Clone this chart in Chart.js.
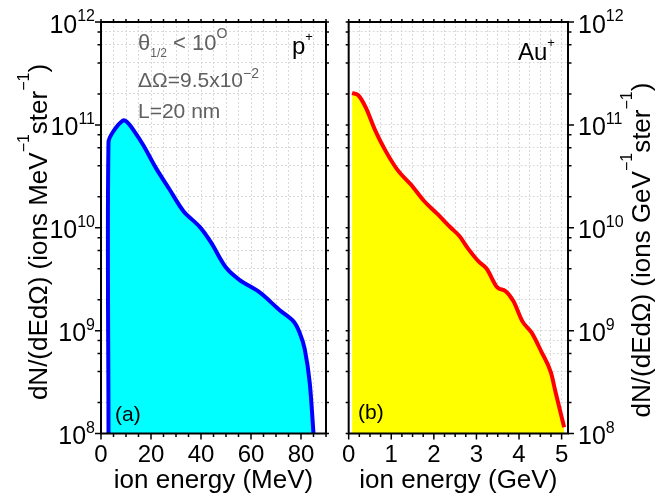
<!DOCTYPE html>
<html>
<head>
<meta charset="utf-8">
<script src="https://cdn.jsdelivr.net/npm/chart.js@4.4.1/dist/chart.umd.min.js"></script>
<style>
  html, body { margin: 0; padding: 0; background: #fff; }
  #wrap { position: relative; width: 669px; height: 496px; overflow: hidden; }
  #wrap canvas { position: absolute; top: 0; }
</style>
</head>
<body>
<div id="wrap">
  <canvas id="chartA" width="335" height="496" style="left:0"></canvas>
  <canvas id="chartB" width="334" height="496" style="left:335px"></canvas>
</div>
<script>
// ---- datos ----
// (a) protones, energia en MeV
const protonEnergy = [3, 3, 5, 8.7, 10.3, 13, 17, 22, 27.5, 33, 39.5, 44, 50, 55.5, 63.5, 71.5, 77, 79.5, 81.5, 83.5, 85];
const protonYield = [1e8, 6.8e10, 8.7e10, 1.1e11, 1.07e11, 8.9e10, 6.3e10, 3.8e10, 2.34e10, 1.45e10, 1.02e10,
  7.2e9, 4.1e9, 3.1e9, 2.35e9, 1.58e9, 1.23e9, 9.5e8, 6.6e8, 3.1e8, 1e8];

// (b) Au, energia en GeV
const goldEnergy = [0.08, 0.22, 0.4, 0.62, 0.85, 1.15, 1.46, 1.77, 2.07, 2.4, 2.6, 2.8, 3.05, 3.24, 3.49, 3.68,
  3.87, 4.08, 4.3, 4.52, 4.75, 4.86, 5.06];
const goldYield = [2.04e11, 1.95e11, 1.48e11, 8.9e10, 5.75e10, 3.63e10, 2.63e10, 1.82e10, 1.38e10, 1.0e10, 8.3e9,
  6.3e9, 4.7e9, 4.0e9, 2.63e9, 2.43e9, 1.93e9, 1.23e9, 9.5e8, 6.3e8, 3.9e8, 2.5e8, 1.15e8];

// ticks
const protonXMajor = [0, 20, 40, 60, 80];
const goldXMajor = [0, 1, 2, 3, 4, 5];
const yDecades = [8, 9, 10, 11, 12];
const yMinorMantissa = [2, 4, 6, 8];

const FONT = '"Liberation Sans", Arial, Helvetica, sans-serif';
Chart.defaults.font.family = FONT;

function font(size) { return size + 'px ' + FONT; }

// texto con sub/superindices: segs = [{t, size, dy}]
function drawRich(ctx, segs, x, y, align) {
  let w = 0;
  segs.forEach(s => { ctx.font = font(s.size); w += ctx.measureText(s.t).width; });
  let cx = align === 'center' ? x - w / 2 : align === 'right' ? x - w : x;
  ctx.textAlign = 'left';
  ctx.textBaseline = 'alphabetic';
  segs.forEach(s => {
    ctx.font = font(s.size);
    ctx.fillText(s.t, cx, y + (s.dy || 0));
    cx += ctx.measureText(s.t).width;
  });
}

function isDecade(v) {
  const l = Math.log10(v);
  return Math.abs(l - Math.round(l)) < 1e-9;
}

// marco, marcas de ticks, etiquetas del eje y y anotaciones
const panelDecor = {
  id: 'panelDecor',
  afterDraw(chart, args, o) {
    const ctx = chart.ctx, a = chart.chartArea;
    const xs = chart.scales.x, ys = chart.scales.y;
    ctx.save();
    ctx.strokeStyle = '#000';
    ctx.lineWidth = 1.5;
    ctx.beginPath();
    xs.ticks.forEach(t => {
      const px = xs.getPixelForValue(t.value);
      const major = o.xMajor.includes(t.value);
      ctx.moveTo(px, a.bottom); ctx.lineTo(px, a.bottom + (major ? 6 : 3.5));
      ctx.moveTo(px, a.top); ctx.lineTo(px, a.top - 3);
    });
    const sgn = o.side === 'left' ? -1 : 1;
    const mainX = o.side === 'left' ? a.left : a.right;
    const mirX = o.side === 'left' ? a.right : a.left;
    ys.ticks.forEach(t => {
      const py = ys.getPixelForValue(t.value);
      const major = isDecade(t.value);
      ctx.moveTo(mainX, py); ctx.lineTo(mainX + sgn * (major ? 6 : 3.5), py);
      ctx.moveTo(mirX, py); ctx.lineTo(mirX - sgn * 3, py);
    });
    ctx.stroke();

    ctx.lineWidth = 2;
    ctx.strokeRect(a.left, a.top, a.right - a.left, a.bottom - a.top);

    // etiquetas 10^n
    ctx.fillStyle = '#000';
    yDecades.forEach(n => {
      const py = ys.getPixelForValue(Math.pow(10, n));
      const segs = [{ t: '10', size: 25 }, { t: String(n), size: 16, dy: -11.5 }];
      if (o.side === 'left') drawRich(ctx, segs, a.left - 6, py + 10.5, 'right');
      else drawRich(ctx, segs, a.right + 10, py + 10.5, 'left');
    });

    // titulo del eje y
    ctx.save();
    ctx.translate(o.yTitleX, o.yTitleY);
    ctx.rotate(-Math.PI / 2);
    drawRich(ctx, [
      { t: 'dN/(dEd\u03A9) (ions ' + o.unit, size: 26 },
      { t: '\u22121', size: 16, dy: -18 },
      { t: 'ster', size: 26 },
      { t: '\u22121', size: 16, dy: -18 },
      { t: ')', size: 26 }
    ], 0, 0, 'center');
    ctx.restore();

    // anotaciones
    o.notes.forEach(nt => {
      ctx.fillStyle = nt.color;
      drawRich(ctx, nt.segs, nt.x, nt.y, 'left');
    });
    ctx.restore();
  }
};

function makePanel(canvasId, cfg) {
  const xTicks = [];
  for (let v = 0; v <= cfg.xMax + 1e-9; v += cfg.xStep) xTicks.push(Math.round(v * 100) / 100);
  const yTicks = [];
  yDecades.forEach(n => {
    yTicks.push(Math.pow(10, n));
    if (n < 12) yMinorMantissa.forEach(m => yTicks.push(m * Math.pow(10, n)));
  });

  return new Chart(document.getElementById(canvasId), {
    type: 'line',
    data: {
      datasets: [{
        data: cfg.energy.map((e, i) => ({ x: e, y: cfg.yield[i] })),
        borderColor: cfg.line,
        backgroundColor: cfg.fill,
        borderWidth: 4,
        fill: 'start',
        tension: cfg.tension,
        cubicInterpolationMode: cfg.interp,
        pointRadius: 0
      }]
    },
    options: {
      responsive: false,
      animation: false,
      devicePixelRatio: 1,
      layout: { padding: cfg.padding },
      plugins: {
        legend: { display: false },
        tooltip: { enabled: false },
        panelDecor: cfg.decor
      },
      scales: {
        x: {
          type: 'linear',
          min: 0,
          max: cfg.xMax,
          afterBuildTicks: s => { s.ticks = xTicks.map(v => ({ value: v })); },
          afterFit: s => { s.height = 62.5; },
          grid: { color: '#dadada', lineWidth: 1, drawTicks: false },
          border: { display: false, dash: [2, 2] },
          ticks: {
            autoSkip: false,
            maxRotation: 0,
            padding: 7,
            color: '#000',
            font: { size: 24 },
            callback: v => cfg.decor.xMajor.includes(v) ? String(v) : ''
          },
          title: {
            display: true,
            text: cfg.xTitle,
            color: '#000',
            font: { size: 26 },
            padding: { top: 0, bottom: 0 }
          }
        },
        y: {
          type: 'logarithmic',
          position: cfg.decor.side,
          min: 1e8,
          max: 1e12,
          afterBuildTicks: s => { s.ticks = yTicks.map(v => ({ value: v })); },
          afterFit: s => { s.width = 101; },
          grid: { color: '#dadada', lineWidth: 1, drawTicks: false },
          border: { display: false, dash: [2, 2] },
          ticks: { display: false }
        }
      }
    },
    plugins: [panelDecor]
  });
}

const GRAY = '#606060';

makePanel('chartA', {
  energy: protonEnergy,
  yield: protonYield,
  line: '#0000ff',
  fill: '#00ffff',
  tension: 0.3,
  interp: 'default',
  xMax: 90,
  xStep: 5,
  xTitle: 'ion energy (MeV)',
  padding: { top: 22, right: 9, left: 0, bottom: 0 },
  decor: {
    side: 'left',
    xMajor: protonXMajor,
    unit: 'MeV',
    yTitleX: 47,
    yTitleY: 232,
    notes: [
      { color: GRAY, x: 138, y: 50, segs: [
        { t: '\u03B8', size: 22 }, { t: '1/2', size: 12, dy: 7 },
        { t: ' < 10', size: 22 }, { t: 'O', size: 14, dy: -12 }] },
      { color: GRAY, x: 138, y: 87, segs: [
        { t: '\u0394\u03A9=9.5x10', size: 21 }, { t: '\u22122', size: 14, dy: -9 }] },
      { color: GRAY, x: 138, y: 118, segs: [{ t: 'L=20 nm', size: 21 }] },
      { color: '#000', x: 292, y: 54, segs: [{ t: 'p', size: 24 }, { t: '+', size: 13, dy: -13 }] },
      { color: '#000', x: 115, y: 420.5, segs: [{ t: '(a)', size: 21 }] }
    ]
  }
});

makePanel('chartB', {
  energy: goldEnergy,
  yield: goldYield,
  line: '#ff0000',
  fill: '#ffff00',
  tension: 0,
  interp: 'monotone',
  xMax: 5.15,
  xStep: 0.25,
  xTitle: 'ion energy (GeV)',
  padding: { top: 22, right: 0, left: 8, bottom: 0 },
  decor: {
    side: 'right',
    xMajor: goldXMajor,
    unit: 'GeV',
    yTitleX: 315,
    yTitleY: 250,
    notes: [
      { color: '#000', x: 183, y: 60, segs: [{ t: 'Au', size: 24 }, { t: '+', size: 13, dy: -13 }] },
      { color: '#000', x: 23, y: 419, segs: [{ t: '(b)', size: 21 }] }
    ]
  }
});
</script>
</body>
</html>
